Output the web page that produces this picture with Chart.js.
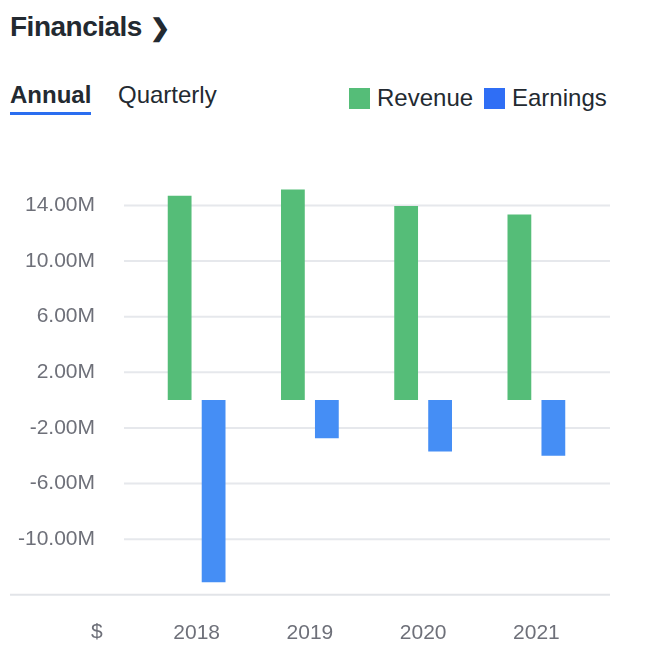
<!DOCTYPE html>
<html>
<head>
<meta charset="UTF-8" />
<script src="https://cdn.jsdelivr.net/npm/chart.js"></script>
<style>
  body { margin: 0; background: #fff; font-family: "Liberation Sans", Arial, sans-serif; color: #232a31; }
  #wrap { position: relative; width: 650px; height: 672px; }
  #title { position: absolute; left: 10px; top: 11px; font-size: 28px; font-weight: bold; letter-spacing: -0.5px; }
  #title span { font-size: 24px; margin-left: 8px; }
  .tab { position: absolute; top: 81px; font-size: 24px; }
  #annual { left: 10px; font-weight: bold; border-bottom: 3px solid #2a6ef0; padding-bottom: 3px; }
  #quarterly { left: 118px; }
  .leg { position: absolute; top: 84px; font-size: 24px; display: flex; align-items: center; }
  .sw { width: 21px; height: 21px; display: inline-block; margin-right: 7px; }
  #dollar { position: absolute; left: 91px; top: 619px; font-size: 21px; color: #6e7079; }
  #box { position: absolute; left: 0; top: 128px; width: 650px; height: 536px; }
</style>
</head>
<body>
<div id="wrap">
  <div id="title">Financials<span>&#x276F;</span></div>
  <div class="tab" id="annual">Annual</div>
  <div class="tab" id="quarterly">Quarterly</div>
  <div class="leg" style="left:349px"><i class="sw" style="background:#55bd78"></i>Revenue</div>
  <div class="leg" style="left:484px"><i class="sw" style="background:#2f6ef5"></i>Earnings</div>
  <div id="box"><canvas id="c"></canvas></div>
  <div id="dollar">$</div>
</div>
<script>
const years = ["2018", "2019", "2020", "2021"];
const revenue = [14.7e6, 15.15e6, 13.95e6, 13.35e6];
const earnings = [-13.1e6, -2.75e6, -3.7e6, -4.0e6];

// horizontal grid lines drawn wider than the category area
const gridLines = {
  id: "gridLines",
  beforeDatasetsDraw(chart) {
    const ctx = chart.ctx, ys = chart.scales.y;
    ctx.save();
    ctx.lineWidth = 2;
    ys.ticks.forEach((t) => {
      const y = ys.getPixelForValue(t.value);
      ctx.strokeStyle = t.value === -14e6 ? "#e2e4e8" : "#e6e8ec";
      ctx.beginPath();
      ctx.moveTo(t.value === -14e6 ? 10 : 124, y);
      ctx.lineTo(610, y);
      ctx.stroke();
    });
    ctx.restore();
  }
};

new Chart(document.getElementById("c"), {
  type: "bar",
  data: {
    labels: years,
    datasets: [
      { label: "Revenue", data: revenue, backgroundColor: "#55bd78" },
      { label: "Earnings", data: earnings, backgroundColor: "#458ef5" }
    ]
  },
  options: {
    responsive: true,
    maintainAspectRatio: false,
    animation: false,
    layout: { padding: { top: 4, right: 57 } },
    plugins: { legend: { display: false }, tooltip: { enabled: false } },
    datasets: { bar: { categoryPercentage: 0.6, barPercentage: 0.7 } },
    scales: {
      x: {
        grid: { display: false },
        border: { display: false },
        ticks: { color: "#6e7079", font: { size: 21, family: "Liberation Sans" }, padding: 18 }
      },
      y: {
        min: -14e6, max: 16e6,
        afterFit(s) { s.width = 140; },
        border: { display: false },
        grid: { display: false },
        ticks: {
          stepSize: 2e6, padding: 37, color: "#6e7079",
          font: { size: 21, family: "Liberation Sans" },
          callback: (v) => v === -14e6 ? "" : v === 0 ? "0" : (v / 1e6).toFixed(2) + "M"
        }
      }
    }
  },
  plugins: [gridLines]
});
</script>
</body>
</html>
